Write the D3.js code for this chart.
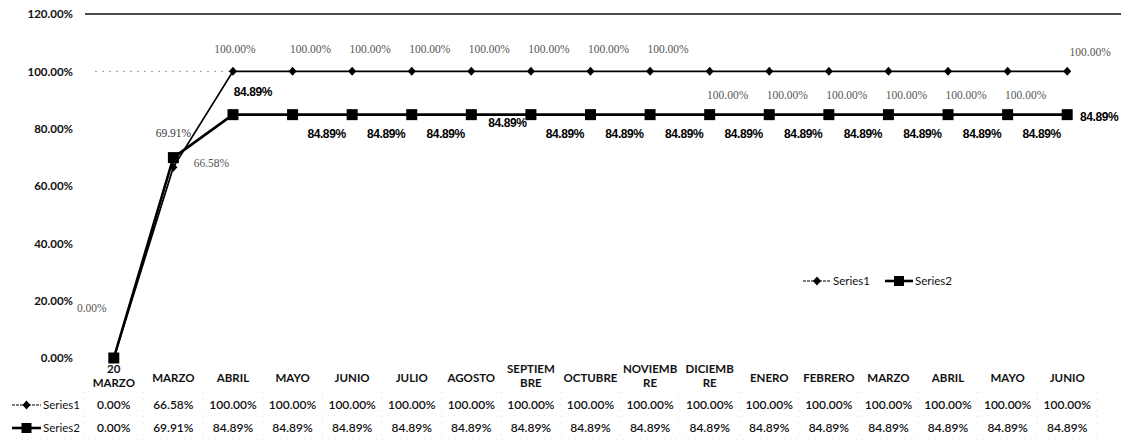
<!DOCTYPE html>
<html>
<head>
<meta charset="utf-8">
<script src="https://cdn.jsdelivr.net/npm/d3@7/dist/d3.min.js"></script>
<style>
  body { margin: 0; background: #fff; }
  svg { display: block; font-family: Lato, "Open Sans", sans-serif; }
</style>
</head>
<body>
<div id="chart"></div>
<script>
var categories = ["20\nMARZO", "MARZO", "ABRIL", "MAYO", "JUNIO", "JULIO", "AGOSTO",
    "SEPTIEM\nBRE", "OCTUBRE", "NOVIEMB\nRE", "DICIEMB\nRE", "ENERO", "FEBRERO",
    "MARZO", "ABRIL", "MAYO", "JUNIO"];
var series1 = [0, 66.58, 100, 100, 100, 100, 100, 100, 100, 100, 100, 100, 100, 100, 100, 100, 100];
var series2 = [0, 69.91, 84.89, 84.89, 84.89, 84.89, 84.89, 84.89, 84.89, 84.89, 84.89, 84.89, 84.89, 84.89, 84.89, 84.89, 84.89];
var seriesNames = ["Series1", "Series2"];
var yTicks = [0, 20, 40, 60, 80, 100, 120];

var width = 1121,
    height = 444;

var svg = d3.select("#chart").append("svg")
    .attr("width", width)
    .attr("height", height);

var x = d3.scaleBand()
    .domain(d3.range(categories.length))
    .range([84, 1097]);

function cx(i) { return x(i) + x.bandwidth() / 2; }

var y = d3.scaleLinear()
    .domain([0, 120])
    .range([358, 14]);

var pct = function (v) { return v.toFixed(2) + "%"; };

// gridlines: only the top one and a faint 100% one survive in the picture
svg.append("line")
    .attr("x1", 85).attr("x2", width)
    .attr("y1", y(120)).attr("y2", y(120))
    .attr("stroke", "#111").attr("stroke-width", 1.3);

svg.append("line")
    .attr("x1", 95).attr("x2", cx(2))
    .attr("y1", y(100)).attr("y2", y(100))
    .attr("stroke", "#999").attr("stroke-width", 1)
    .attr("stroke-dasharray", "2,5");

// y axis
var yAxis = svg.append("g")
    .attr("transform", "translate(73,0)")
    .call(d3.axisLeft(y).tickValues(yTicks).tickFormat(pct).tickSize(0).tickPadding(0));
yAxis.select(".domain").remove();
yAxis.selectAll("text")
    .attr("font-family", "Lato, sans-serif")
    .attr("font-size", 11.5)
    .attr("font-weight", 700)
    .attr("fill", "#111");

// lines
var line1 = d3.line().x(function (d, i) { return cx(i); }).y(function (d) { return y(d); });

svg.append("path")
    .datum(series2)
    .attr("d", line1)
    .attr("fill", "none")
    .attr("stroke", "#000")
    .attr("stroke-width", 2.6);

svg.append("path")
    .datum(series1)
    .attr("d", line1)
    .attr("fill", "none")
    .attr("stroke", "#000")
    .attr("stroke-width", 1.7);

var diamond = "M0,-4.5L4,0L0,4.5L-4,0Z";

svg.append("g").selectAll("path")
    .data(series1)
    .join("path")
    .attr("d", diamond)
    .attr("transform", function (d, i) { return "translate(" + cx(i) + "," + y(d) + ")"; })
    .attr("fill", "#000");

svg.append("g").selectAll("rect")
    .data(series2)
    .join("rect")
    .attr("x", function (d, i) { return cx(i) - 5.5; })
    .attr("y", function (d) { return y(d) - 5.5; })
    .attr("width", 11)
    .attr("height", 11)
    .attr("fill", "#000");

// data labels, series1 (light serif, as in the scan)
function s1Offset(i) {
    if (i === 0) return [-22, -46];
    if (i === 1) return [38, 0];
    if (i === 2) return [2, -18];
    if (i === categories.length - 1) return [23, -15];
    if (i >= 10) return [18, 28];
    return [18, -18];
}

svg.append("g").selectAll("text")
    .data(series1)
    .join("text")
    .attr("x", function (d, i) { return cx(i) + s1Offset(i)[0]; })
    .attr("y", function (d, i) { return y(d) + s1Offset(i)[1]; })
    .attr("text-anchor", "middle")
    .attr("font-family", "'Liberation Serif', serif")
    .attr("font-size", 11.5)
    .attr("fill", "#555")
    .text(pct);

// data labels, series2 (bold sans), first point's label is hidden under series1's
function s2Offset(i) {
    if (i === 1) return [0, -21];
    if (i === 2) return [20, -19];
    if (i === categories.length - 1) return [32, 6];
    if (i === 6) return [36, 12];
    return [34, 23];
}

svg.append("g").selectAll("text")
    .data(series2.slice(1))
    .join("text")
    .attr("x", function (d, j) { return cx(j + 1) + s2Offset(j + 1)[0]; })
    .attr("y", function (d, j) { return y(d) + s2Offset(j + 1)[1]; })
    .attr("text-anchor", "middle")
    .attr("font-family", function (d, j) { return j === 0 ? "'Liberation Serif', serif" : "'Liberation Sans', Arial, sans-serif"; })
    .attr("font-size", function (d, j) { return j === 0 ? 11.5 : 12; })
    .attr("font-weight", function (d, j) { return j === 0 ? 400 : 700; })
    .attr("fill", function (d, j) { return j === 0 ? "#333" : "#000"; })
    .attr("letter-spacing", function (d, j) { return j === 0 ? 0 : -0.4; })
    .text(pct);

// category labels
var catG = svg.append("g").selectAll("text")
    .data(categories)
    .join("text")
    .attr("text-anchor", "middle")
    .attr("font-size", 11.5)
    .attr("font-weight", 700)
    .attr("fill", "#111")
    .attr("x", function (d, i) { return cx(i); })
    .attr("y", function (d) { return d.indexOf("\n") >= 0 ? 373 : 382; });

catG.selectAll("tspan")
    .data(function (d) { return d.split("\n"); })
    .join("tspan")
    .attr("x", function () { return d3.select(this.parentNode).attr("x"); })
    .attr("dy", function (d, k) { return k === 0 ? 0 : 14; })
    .text(function (d) { return d; });

// data table
var rowsY = [405, 428];
var tableData = [series1, series2];

// faint table rules
var rules = svg.append("g")
    .attr("stroke", "#e2e2e2")
    .attr("stroke-width", 1)
    .attr("stroke-dasharray", "1,5");
rules.selectAll("line.v")
    .data([84].concat(d3.range(categories.length).map(function (i) { return x(i) + x.bandwidth(); })))
    .join("line")
    .attr("class", "v")
    .attr("x1", function (d) { return d; }).attr("x2", function (d) { return d; })
    .attr("y1", 392).attr("y2", 440);
rules.selectAll("line.h")
    .data([392, 416, 439])
    .join("line")
    .attr("class", "h")
    .attr("x1", 4).attr("x2", 1097)
    .attr("y1", function (d) { return d; }).attr("y2", function (d) { return d; });

tableData.forEach(function (vals, r) {
    svg.append("g").selectAll("text")
        .data(vals)
        .join("text")
        .attr("x", function (d, i) { return cx(i); })
        .attr("y", rowsY[r] + 4)
        .attr("text-anchor", "middle")
        .attr("font-size", 12)
        .attr("font-weight", 600)
        .attr("fill", "#111")
        .text(pct);
});

// legend keys (table and chart legend)
function drawKey(g, idx, lineLen) {
    g.append("line")
        .attr("x1", 0).attr("x2", lineLen)
        .attr("y1", 0).attr("y2", 0)
        .attr("stroke", "#000")
        .attr("stroke-width", idx === 0 ? 1.2 : 2.6)
        .attr("stroke-dasharray", idx === 0 ? "3,1" : null);
    if (idx === 0) {
        g.append("path")
            .attr("d", diamond)
            .attr("transform", "translate(" + (lineLen / 2) + ",0)")
            .attr("fill", "#000");
    } else {
        g.append("rect")
            .attr("x", lineLen / 2 - 5).attr("y", -5)
            .attr("width", 10).attr("height", 10)
            .attr("fill", "#000");
    }
    g.append("text")
        .attr("x", lineLen + 2)
        .attr("y", 4)
        .attr("font-size", 11.5)
        .attr("font-weight", 400)
        .attr("fill", "#111")
        .text(seriesNames[idx]);
}

seriesNames.forEach(function (name, idx) {
    drawKey(svg.append("g").attr("transform", "translate(12," + rowsY[idx] + ")"), idx, 29);
});

var legendX = [803, 885];
seriesNames.forEach(function (name, idx) {
    drawKey(svg.append("g").attr("transform", "translate(" + legendX[idx] + ",281)"), idx, 28);
});
</script>
</body>
</html>
